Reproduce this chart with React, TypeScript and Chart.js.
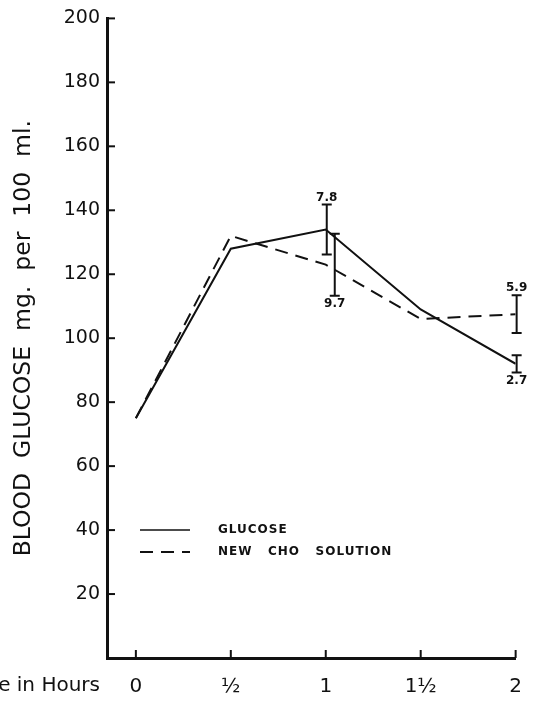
import React, { useEffect, useRef } from "react";
import { Chart, registerables } from "chart.js";

Chart.register(...registerables);

// ---- data ----
const hours = [0, 0.5, 1, 1.5, 2];
const hourLabels = ["0", "½", "1", "1½", "2"];
const glucose = [75, 128, 134, 109, 92];
const choSolution = [75, 132, 123, 106, 107.5];
const glucoseSE: (number | null)[] = [null, null, 7.8, null, 2.7];
const choSE: (number | null)[] = [null, null, 9.7, null, 5.9];
const yTickValues = [20, 40, 60, 80, 100, 120, 140, 160, 180, 200];
const seriesNames = ["GLUCOSE", "NEW CHO SOLUTION"];
const yTitle = "BLOOD  GLUCOSE  mg.  per  100  ml.";
const xTitle = "Time in Hours";

const INK = "#111";
const FONT = "DejaVu Sans";

const innerTicks = {
  id: "innerTicks",
  afterDraw(chart: any) {
    const { ctx, chartArea, scales } = chart;
    ctx.save();
    ctx.strokeStyle = INK;
    ctx.lineWidth = 2;
    scales.y.ticks.forEach((t: any) => {
      const py = scales.y.getPixelForValue(t.value);
      ctx.beginPath();
      ctx.moveTo(chartArea.left, py);
      ctx.lineTo(chartArea.left + 8, py);
      ctx.stroke();
    });
    scales.x.ticks.forEach((t: any) => {
      const px = scales.x.getPixelForValue(t.value);
      ctx.beginPath();
      ctx.moveTo(px, chartArea.bottom);
      ctx.lineTo(px, chartArea.bottom - 8);
      ctx.stroke();
    });
    // x title to the left of the tick labels
    ctx.fillStyle = INK;
    ctx.font = `20px "${FONT}"`;
    ctx.textAlign = "right";
    ctx.textBaseline = "middle";
    ctx.fillText(xTitle, chartArea.left - 7, chartArea.bottom + 28);
    ctx.restore();
  },
};

const errorBars = {
  id: "errorBars",
  afterDatasetsDraw(chart: any) {
    const { ctx, scales } = chart;
    const errs = [glucoseSE, choSE];
    const sets = chart.data.datasets;
    ctx.save();
    ctx.strokeStyle = INK;
    ctx.fillStyle = INK;
    ctx.lineWidth = 2;
    ctx.setLineDash([]);
    ctx.font = `bold 12px "${FONT}"`;
    ctx.textAlign = "center";
    sets.forEach((ds: any, di: number) => {
      const other = sets[1 - di];
      ds.data.forEach((pt: any, i: number) => {
        const e = errs[di][i];
        if (e == null) return;
        const v = pt.y;
        const oe = errs[1 - di][i];
        const ov = other.data[i].y;
        const overlap = oe != null && Math.abs(v - ov) < e + oe;
        const px = scales.x.getPixelForValue(pt.x) + (overlap && di === 1 ? 8 : 0) + 1;
        const yt = scales.y.getPixelForValue(v + e);
        const yb = scales.y.getPixelForValue(v - e);
        ctx.beginPath();
        ctx.moveTo(px, yt);
        ctx.lineTo(px, yb);
        ctx.moveTo(px - 5, yt);
        ctx.lineTo(px + 5, yt);
        ctx.moveTo(px - 5, yb);
        ctx.lineTo(px + 5, yb);
        ctx.stroke();
        const label = String(e);
        if (v > ov) {
          ctx.textBaseline = "bottom";
          ctx.fillText(label, px, yt - 1);
        } else {
          ctx.textBaseline = "top";
          ctx.fillText(label, px, yb + 2);
        }
      });
    });
    ctx.restore();
  },
};

const inlineLegend = {
  id: "inlineLegend",
  afterDraw(chart: any) {
    const { ctx, chartArea } = chart;
    ctx.save();
    ctx.strokeStyle = INK;
    ctx.fillStyle = INK;
    ctx.font = `bold 12px "${FONT}"`;
    (ctx as any).letterSpacing = "1px";
    ctx.textAlign = "left";
    ctx.textBaseline = "middle";
    chart.data.datasets.forEach((ds: any, i: number) => {
      const yy = chartArea.bottom - 128 + i * 22;
      const x0 = chartArea.left + 33;
      ctx.setLineDash(ds.borderDash || []);
      ctx.lineWidth = i === 0 ? 1.5 : 2;
      ctx.beginPath();
      ctx.moveTo(x0, yy);
      ctx.lineTo(x0 + 50, yy);
      ctx.stroke();
      ctx.setLineDash([]);
      ctx.fillText(ds.label.replace(/ /g, "   "), chartArea.left + 111, yy);
    });
    ctx.restore();
  },
};

export default function App() {
  const ref = useRef<HTMLCanvasElement | null>(null);

  useEffect(() => {
    if (!ref.current) return;
    Chart.defaults.font.family = FONT;
    const chart = new Chart(ref.current, {
      type: "line",
      data: {
        datasets: [
          {
            label: seriesNames[0],
            data: glucose.map((v, i) => ({ x: hours[i], y: v })) as any,
            borderColor: INK,
            borderWidth: 2,
            pointRadius: 0,
            tension: 0,
          },
          {
            label: seriesNames[1],
            data: choSolution.map((v, i) => ({ x: hours[i], y: v })) as any,
            borderColor: INK,
            borderWidth: 2,
            borderDash: [13, 8],
            pointRadius: 0,
            tension: 0,
          },
        ],
      },
      options: {
        animation: false,
        responsive: false,
        layout: { padding: { left: 0, right: 20, top: 14, bottom: 0 } },
        plugins: { legend: { display: false }, tooltip: { enabled: false } },
        parsing: false as any,
        scales: {
          x: {
            type: "linear",
            min: -0.152,
            max: 2,
            grid: { display: false, drawTicks: false },
            border: { display: true, width: 3, color: INK },
            afterBuildTicks: (s: any) => {
              s.ticks = hours.map((h) => ({ value: h }));
            },
            afterFit: (s: any) => {
              s.height = 43;
            },
            ticks: {
              color: INK,
              font: { size: 20 },
              padding: 17,
              maxRotation: 0,
              autoSkip: false,
              callback: (v: any) => {
                const idx = hours.indexOf(Number(v));
                return idx >= 0 ? hourLabels[idx] : "";
              },
            },
          },
          y: {
            type: "linear",
            min: 0,
            max: 200,
            grid: { display: false, drawTicks: false },
            border: { display: true, width: 3, color: INK },
            afterBuildTicks: (s: any) => {
              s.ticks = yTickValues.map((v) => ({ value: v }));
            },
            afterFit: (s: any) => {
              s.width = 107;
            },
            ticks: {
              color: INK,
              font: { size: 19 },
              padding: 7,
              autoSkip: false,
            },
            title: {
              display: true,
              text: yTitle,
              color: INK,
              font: { size: 23.5 },
              padding: { top: 10, bottom: 0 },
            },
          },
        },
      },
      plugins: [innerTicks, errorBars, inlineLegend],
    });
    return () => chart.destroy();
  }, []);

  return (
    <div style={{ position: "absolute", left: 0, top: 0, width: 539, height: 701, background: "#fff" }}>
      <canvas ref={ref} width={539} height={701} style={{ display: "block" }} />
    </div>
  );
}
